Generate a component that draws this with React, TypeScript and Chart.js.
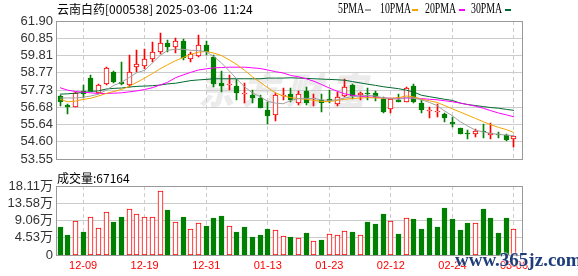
import React, { useEffect, useRef } from "react";
import { Chart, registerables } from "chart.js";

Chart.register(...registerables);

// ---------- data ----------
const dates = [
  "12-04", "12-05", "12-06", "12-09", "12-10", "12-11", "12-12", "12-13", "12-16", "12-17",
  "12-18", "12-19", "12-20", "12-23", "12-24", "12-25", "12-26", "12-27", "12-30", "12-31",
  "01-02", "01-03", "01-06", "01-07", "01-08", "01-09", "01-10", "01-13", "01-14", "01-15",
  "01-16", "01-17", "01-20", "01-21", "01-22", "01-23", "01-24", "01-27", "02-05", "02-06",
  "02-07", "02-10", "02-11", "02-12", "02-13", "02-14", "02-17", "02-18", "02-19", "02-20",
  "02-21", "02-24", "02-25", "02-26", "02-27", "02-28", "03-03", "03-04", "03-05", "03-06",
];

const openP = [
  57.37, 56.85, 56.69, 57.68, 58.43, 57.52, 58.12, 58.84, 58.22, 58.06,
  59.11, 59.17, 59.63, 60.04, 60.58, 60.33, 60.68, 59.61, 59.81, 60.46,
  59.75, 58.14, 58.04, 57.99, 57.48, 57.43, 57.23, 56.52, 56.25, 57.37,
  57.48, 56.94, 57.68, 57.21, 57.14, 57.21, 56.90, 57.37, 58.01, 57.41,
  57.54, 57.52, 57.19, 56.56, 57.10, 57.02, 57.95, 56.94, 56.46, 56.40,
  56.28, 55.82, 55.45, 55.11, 55.09, 55.24, 55.01, 55.07, 55.01, 54.76,
];
const highP = [
  57.41, 56.90, 57.60, 58.01, 58.64, 58.10, 59.11, 58.88, 59.42, 59.84,
  60.17, 60.23, 60.64, 61.20, 60.77, 60.87, 60.81, 60.04, 61.04, 60.70,
  59.84, 58.88, 58.64, 58.37, 58.14, 57.76, 57.43, 57.02, 57.52, 57.85,
  57.87, 57.68, 57.91, 57.46, 57.48, 57.75, 57.58, 58.37, 58.10, 57.62,
  57.87, 57.66, 57.33, 57.25, 57.48, 57.91, 58.07, 57.10, 56.69, 56.90,
  56.36, 56.07, 55.45, 55.30, 55.40, 55.65, 55.72, 55.20, 55.05, 54.93,
];
const lowP = [
  56.79, 56.30, 56.69, 57.23, 57.70, 57.48, 58.06, 58.18, 58.01, 57.91,
  58.82, 58.99, 59.44, 59.90, 60.00, 59.98, 59.52, 59.42, 59.73, 59.84,
  57.91, 57.60, 57.76, 57.10, 56.94, 56.94, 56.63, 55.69, 55.88, 57.14,
  56.98, 56.85, 56.85, 56.79, 56.40, 56.94, 56.75, 57.29, 57.17, 57.14,
  57.14, 57.04, 56.32, 56.32, 56.98, 56.98, 56.94, 56.36, 56.01, 56.07,
  55.82, 55.49, 55.05, 54.78, 54.91, 54.85, 54.78, 54.85, 54.66, 54.27,
];
const closeP = [
  57.02, 56.73, 57.54, 57.48, 57.70, 58.06, 59.07, 58.22, 58.10, 58.84,
  59.28, 59.63, 60.00, 60.56, 60.31, 60.68, 59.65, 59.88, 60.46, 60.04,
  58.10, 57.99, 58.10, 57.56, 57.54, 57.23, 56.65, 56.17, 57.41, 57.43,
  57.14, 57.46, 56.94, 57.27, 56.94, 57.06, 57.33, 57.91, 57.37, 57.56,
  57.48, 57.29, 56.40, 57.19, 57.00, 57.87, 57.02, 56.54, 56.52, 56.46,
  56.01, 55.65, 55.09, 55.07, 55.28, 55.20, 55.11, 55.03, 54.68, 54.93,
];

const ma5 = [
  57.25, 57.25, 57.25, 57.29, 57.37, 57.48, 57.72, 58.01, 58.20, 58.49,
  58.78, 58.92, 59.36, 59.81, 60.13, 60.19, 60.19, 60.13, 60.12, 60.04,
  59.75, 59.36, 58.88, 58.39, 57.91, 57.56, 57.33, 57.04, 56.94, 56.90,
  57.10, 57.21, 57.23, 57.21, 57.14, 57.10, 57.14, 57.25, 57.33, 57.37,
  57.41, 57.37, 57.25, 57.21, 57.17, 57.27, 57.23, 57.14, 56.98, 56.79,
  56.46, 56.17, 55.82, 55.55, 55.30, 55.20, 55.11, 55.05, 55.01, 54.97,
];
const ma10 = [
  57.17, 57.02, 57.06, 57.16, 57.23, 57.37, 57.52, 57.64, 57.76, 57.95,
  58.20, 58.45, 58.72, 59.01, 59.26, 59.50, 59.69, 59.88, 60.02, 60.06,
  59.96, 59.81, 59.55, 59.26, 58.92, 58.53, 58.20, 57.87, 57.56, 57.37,
  57.27, 57.21, 57.17, 57.10, 57.04, 57.04, 57.10, 57.17, 57.21, 57.25,
  57.27, 57.25, 57.23, 57.23, 57.27, 57.37, 57.31, 57.17, 57.08, 56.98,
  56.79, 56.59, 56.40, 56.21, 56.01, 55.82, 55.63, 55.47, 55.34, 55.16,
];
const ma20 = [
  57.87, 57.72, 57.64, 57.60, 57.56, 57.52, 57.52, 57.54, 57.56, 57.62,
  57.68, 57.76, 57.87, 58.03, 58.20, 58.47, 58.64, 58.80, 58.94, 59.01,
  59.07, 59.09, 59.11, 59.11, 59.11, 59.07, 59.03, 58.94, 58.84, 58.76,
  58.61, 58.53, 58.41, 58.26, 58.06, 57.85, 57.66, 57.50, 57.41, 57.35,
  57.31, 57.29, 57.25, 57.23, 57.23, 57.25, 57.25, 57.21, 57.17, 57.14,
  57.08, 57.02, 56.94, 56.85, 56.75, 56.63, 56.48, 56.34, 56.23, 56.11,
];
const ma30 = [
  57.48, 57.50, 57.54, 57.58, 57.64, 57.68, 57.79, 57.83, 57.85, 57.91,
  57.95, 57.97, 57.99, 58.03, 58.10, 58.14, 58.22, 58.30, 58.34, 58.37,
  58.41, 58.41, 58.41, 58.41, 58.41, 58.41, 58.41, 58.45, 58.45, 58.45,
  58.47, 58.45, 58.43, 58.41, 58.39, 58.37, 58.35, 58.32, 58.24, 58.16,
  58.08, 58.01, 57.93, 57.87, 57.81, 57.72, 57.60, 57.41, 57.33, 57.25,
  57.17, 57.10, 56.94, 56.85, 56.79, 56.73, 56.67, 56.63, 56.56, 56.50,
];

// volume in 万 (10k shares)
const volume = [
  7.42, 5.30, 8.92, 6.10, 9.98, 7.07, 11.31, 8.75, 10.07, 12.10,
  10.78, 9.98, 9.98, 16.87, 11.93, 8.66, 10.07, 6.80, 8.39, 7.69,
  9.81, 10.34, 7.60, 6.10, 7.42, 4.77, 5.30, 6.89, 6.54, 4.95,
  4.77, 4.42, 5.83, 3.62, 3.98, 5.48, 5.21, 6.27, 6.10, 5.21,
  8.75, 8.22, 10.87, 8.92, 5.57, 9.72, 9.54, 6.89, 9.81, 7.42,
  12.46, 9.54, 6.63, 8.48, 8.48, 12.19, 9.81, 5.83, 9.81, 6.72,
];
// 1 = red (hollow) volume bar, 0 = green
const volUp = [
  0, 0, 1, 0, 1, 1, 1, 0, 0, 1,
  1, 1, 1, 1, 0, 1, 0, 1, 1, 0,
  0, 0, 1, 0, 0, 0, 0, 0, 1, 1,
  0, 1, 0, 1, 0, 1, 1, 1, 0, 1,
  0, 0, 0, 1, 0, 1, 0, 0, 0, 0,
  0, 0, 0, 0, 1, 0, 0, 0, 0, 1,
];

const priceTicks = [53.55, 54.6, 55.64, 56.68, 57.73, 58.77, 59.81, 60.85, 61.9];
const volTicks = [0, 4.53, 9.06, 13.58, 18.11];
const xTickLabels = ["12-09", "12-19", "12-31", "01-13", "01-23", "02-12", "02-24", "03-06"];
const maNames = ["5PMA", "10PMA", "20PMA", "30PMA"];
const lastVolumeText = "67164";

// ---------- styles ----------
const RED = "#ff0000";
const GREEN = "#008000";
const MA_COLORS = ["#a0a0a0", "#f5a300", "#ff00ff", "#006a30"];
const GRID = "#cccccc";
const BOX = "#999999";
const X_MIN = -0.52;
const X_MAX = 60.04;
const TICK_FONT = "'Liberation Sans', 'Noto Sans CJK SC', sans-serif";

const xTickIdx = xTickLabels.map((l) => dates.indexOf(l));
const idx = dates.map((_, i) => i);
const candleUp = (i: number) => closeP[i] >= openP[i];

// draws the plot frame
const boxPlugin = {
  id: "boxFrame",
  afterDraw(chart: any) {
    const { ctx, chartArea: a } = chart;
    ctx.save();
    ctx.strokeStyle = BOX;
    ctx.lineWidth = 1;
    ctx.strokeRect(
      Math.round(a.left) + 0.5,
      Math.round(a.top) + 0.5,
      Math.round(a.right - a.left),
      Math.round(a.bottom - a.top)
    );
    ctx.restore();
  },
};

// snaps bar elements (positioned by the scales) to whole pixels for crisp edges
const snapPlugin = {
  id: "pixelSnap",
  afterDatasetsUpdate(chart: any) {
    chart.data.datasets.forEach((_: any, di: number) => {
      const meta = chart.getDatasetMeta(di);
      if (meta.type !== "bar") return;
      meta.data.forEach((el: any) => {
        el.x = Math.floor(el.x) + 0.5;
        let y = Math.round(el.y);
        const b = Math.round(el.base);
        if (y === b) y = b - 1;
        el.y = y;
        el.base = b;
      });
    });
  },
};

function xScale(showLabels: boolean): any {
  return {
    type: "linear",
    min: X_MIN,
    max: X_MAX,
    offset: false,
    afterBuildTicks: (s: any) => {
      s.ticks = xTickIdx.map((v) => ({ value: v }));
    },
    afterFit: (s: any) => {
      s.height = showLabels ? 21 : 0;
    },
    grid: { color: GRID, lineWidth: 1, drawTicks: false, offset: false },
    border: { display: false, dash: [4, 3] },
    ticks: {
      display: showLabels,
      autoSkip: false,
      maxRotation: 0,
      padding: 4,
      color: RED,
      font: { family: TICK_FONT, size: 11 },
      callback: (v: any) => dates[v] ?? "",
    },
  };
}

function yScale(ticksArr: number[], fmt: (v: number) => string): any {
  return {
    type: "linear",
    min: ticksArr[0],
    max: ticksArr[ticksArr.length - 1],
    afterBuildTicks: (s: any) => {
      s.ticks = ticksArr.map((v) => ({ value: v }));
    },
    afterFit: (s: any) => {
      s.width = 56;
    },
    grid: { color: GRID, lineWidth: 1, drawTicks: false },
    border: { display: false },
    ticks: {
      autoSkip: false,
      padding: 3,
      color: "#333333",
      font: { family: TICK_FONT, size: 13 },
      callback: (v: any) => fmt(Number(v)),
    },
  };
}

export default function App() {
  const priceRef = useRef<HTMLCanvasElement>(null);
  const volRef = useRef<HTMLCanvasElement>(null);

  useEffect(() => {
    const maSeries = [ma5, ma10, ma20, ma30];
    const priceChart = new Chart(priceRef.current as HTMLCanvasElement, {
      type: "bar",
      data: {
        datasets: [
          ...maSeries.map((arr, k) => ({
            type: "line" as const,
            label: maNames[k],
            data: arr.map((v, i) => ({ x: i, y: v })),
            borderColor: MA_COLORS[k],
            borderWidth: 1,
            pointRadius: 0,
            tension: 0,
            fill: false,
            order: 0,
          })),
          {
            type: "bar" as const,
            label: "body",
            data: idx.map((i) => ({ x: i, y: [openP[i], closeP[i]] })) as any,
            backgroundColor: idx.map((i) => (candleUp(i) ? "#ffffff" : GREEN)),
            borderColor: idx.map((i) => (candleUp(i) ? RED : GREEN)),
            borderWidth: 1,
            borderSkipped: false,
            barThickness: 5,
            grouped: false,
            order: 1,
          },
          {
            type: "bar" as const,
            label: "wick",
            data: idx.map((i) => ({ x: i, y: [lowP[i], highP[i]] })) as any,
            backgroundColor: idx.map((i) => (candleUp(i) ? RED : GREEN)),
            borderWidth: 0,
            barThickness: 1,
            grouped: false,
            order: 2,
          },
        ] as any,
      },
      options: {
        animation: false,
        responsive: false,
        layout: { padding: { left: 0, right: 56, top: 21, bottom: 5 } },
        plugins: { legend: { display: false }, tooltip: { enabled: false } },
        scales: {
          x: xScale(false),
          y: yScale(priceTicks, (v) => v.toFixed(2)),
        } as any,
      },
      plugins: [snapPlugin, boxPlugin],
    });

    const volChart = new Chart(volRef.current as HTMLCanvasElement, {
      type: "bar",
      data: {
        datasets: [
          {
            label: "成交量",
            data: idx.map((i) => ({ x: i, y: volume[i] })) as any,
            backgroundColor: idx.map((i) => (volUp[i] ? "#ffffff" : GREEN)),
            borderColor: idx.map((i) => (volUp[i] ? RED : GREEN)),
            borderWidth: 1,
            borderSkipped: false,
            barThickness: 5,
            grouped: false,
          },
        ],
      },
      options: {
        animation: false,
        responsive: false,
        layout: { padding: { left: 0, right: 56, top: 14, bottom: 0 } },
        plugins: { legend: { display: false }, tooltip: { enabled: false } },
        scales: {
          x: xScale(true),
          y: yScale(volTicks, (v) => (v === 0 ? "0" : v.toFixed(2) + "万")),
        } as any,
      },
      plugins: [snapPlugin, boxPlugin],
    });

    return () => {
      priceChart.destroy();
      volChart.destroy();
    };
  }, []);

  const legendPos = [
    { tx: 338, sx: 365 },
    { tx: 380, sx: 412 },
    { tx: 425, sx: 459 },
    { tx: 471, sx: 505 },
  ];

  return (
    <div
      style={{
        position: "absolute",
        left: 0,
        top: 0,
        width: 578,
        height: 276,
        background: "#ffffff",
        overflow: "hidden",
      }}
    >
      <div
        style={{
          position: "absolute",
          left: 198,
          top: 70,
          fontFamily: "'Noto Sans CJK SC', sans-serif",
          fontWeight: 900,
          fontStyle: "italic",
          fontSize: 36,
          lineHeight: "36px",
          letterSpacing: 8,
          color: "#ebebeb",
          whiteSpace: "nowrap",
        }}
      >
        东方财富
      </div>
      <canvas
        ref={priceRef}
        width={578}
        height={170}
        style={{ position: "absolute", left: 0, top: 0, width: 578, height: 170 }}
      />
      <canvas
        ref={volRef}
        width={578}
        height={104}
        style={{ position: "absolute", left: 0, top: 172, width: 578, height: 104 }}
      />
      <div
        style={{
          position: "absolute",
          left: 57,
          top: 3,
          fontFamily: "'Noto Sans CJK SC', sans-serif",
          fontSize: 12,
          lineHeight: "12px",
          color: "#000",
          whiteSpace: "pre",
        }}
      >
        {"云南白药[000538] 2025-03-06  11:24"}
      </div>
      {maNames.map((n, k) => (
        <React.Fragment key={n}>
          <div
            style={{
              position: "absolute",
              left: legendPos[k].tx,
              top: 2,
              fontFamily: "'Liberation Serif', serif",
              fontSize: 14,
              lineHeight: "14px",
              color: "#000",
              whiteSpace: "nowrap",
              transform: "scaleX(0.7)",
              transformOrigin: "left top",
            }}
          >
            {n}
          </div>
          <div
            style={{
              position: "absolute",
              left: legendPos[k].sx,
              top: 9,
              width: 6,
              height: 2,
              background: MA_COLORS[k],
            }}
          />
        </React.Fragment>
      ))}
      <div
        style={{
          position: "absolute",
          left: 57,
          top: 172,
          fontFamily: "'Noto Sans CJK SC', sans-serif",
          fontSize: 12,
          lineHeight: "12px",
          color: "#000",
          whiteSpace: "pre",
        }}
      >
        {"成交量:" + lastVolumeText}
      </div>
      <div
        style={{
          position: "absolute",
          left: 455,
          top: 250,
          fontFamily: "'Liberation Serif', serif",
          fontWeight: 700,
          fontSize: 19,
          lineHeight: "19px",
          color: "#1f3d7a",
          whiteSpace: "nowrap",
          textShadow: "0 0 2px #ffffff, 0 0 2px #ffffff",
        }}
      >
        www.365jz.com
      </div>
    </div>
  );
}
